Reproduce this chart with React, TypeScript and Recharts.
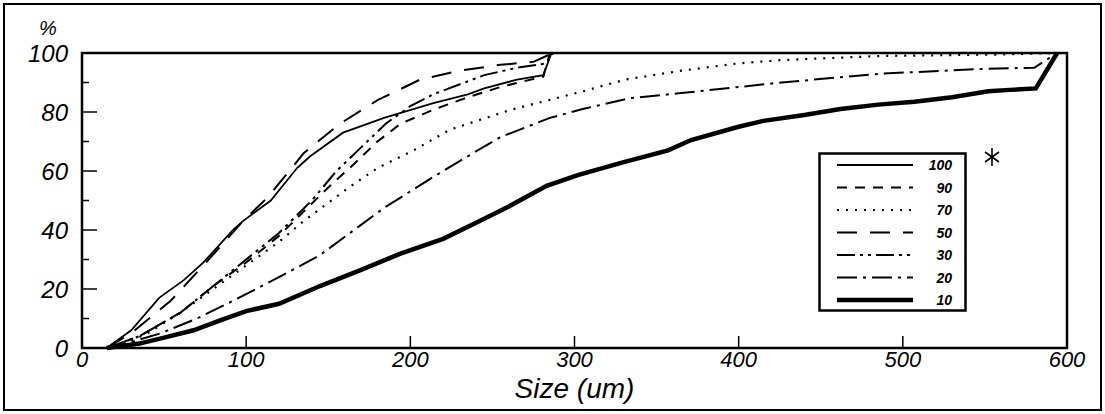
import { LineChart, Line, XAxis, YAxis, Legend, ReferenceArea } from "recharts";

// cumulative size distribution, one curve per fraction
const size100 = [15, 30, 47, 62, 74, 92, 98, 115, 131, 139, 159, 184, 214, 235, 245, 265, 281, 286];
const pct100 = [0, 6, 17, 23, 29, 40, 43, 50, 61, 65, 73, 78, 83, 86, 88, 91, 92.5, 100];

const size90 = [15, 35, 60, 80, 100, 120, 140, 153, 165, 180, 194, 215, 235, 255, 281, 285];
const pct90 = [0, 4, 12, 21, 29, 38, 49, 56, 62, 70, 76, 81, 85, 88.5, 92, 100];

const size70 = [20, 40, 60, 80, 100, 120, 135, 163, 180, 202, 224, 261, 305, 331, 365, 400, 426, 487, 531, 560, 594];
const pct70 = [0, 5, 12, 20, 28, 36, 43, 54.6, 61, 67, 74, 80.7, 87, 91, 94, 96.5, 97.6, 99, 99.3, 99.5, 100];

const size50 = [15, 30, 54, 74, 98, 113, 135, 157, 180, 206, 230, 255, 275, 287];
const pct50 = [0, 5, 16, 28, 43, 51, 66, 76, 84, 91, 94, 96, 97, 100];

const size30 = [15, 35, 60, 80, 100, 120, 140, 155, 170, 185, 200, 214, 245, 265, 283, 287];
const pct30 = [0, 4, 12, 21, 30, 39, 50, 60, 68, 76, 82, 86, 92.5, 95, 96.5, 100];

const size20 = [15, 30, 48, 70, 92, 120, 145, 184, 214, 241, 255, 285, 305, 334, 365, 426, 487, 548, 580, 594];
const pct20 = [0, 2, 5, 10, 16, 24, 31.5, 47.5, 58, 67, 71.5, 78, 81, 84.7, 86.4, 90, 93, 94.6, 95, 100];

const size10 = [15, 35, 50, 68, 85, 100, 120, 145, 170, 194, 220, 241, 260, 283, 302, 330, 357, 371, 400, 415, 440, 462, 485, 507, 530, 552, 565, 581, 594];
const pct10 = [0, 1.5, 3.5, 6, 9.5, 12.5, 15, 21, 26.5, 32, 37, 42.7, 48, 55, 58.6, 63, 67, 70.5, 75, 77, 79, 81, 82.5, 83.5, 85, 87, 87.5, 88, 100];

const xTicks = [0, 100, 200, 300, 400, 500, 600];
const yTicks = [0, 10, 20, 30, 40, 50, 60, 70, 80, 90, 100];

const toPoints = (xs: number[], ys: number[]) => xs.map((x, i) => ({ x, y: ys[i] }));

const series = [
  { name: "100", data: toPoints(size100, pct100), dash: undefined, width: 1.8 },
  { name: "90", data: toPoints(size90, pct90), dash: "10 8", width: 2 },
  { name: "70", data: toPoints(size70, pct70), dash: "2 7", width: 2.2 },
  { name: "50", data: toPoints(size50, pct50), dash: "20 13", width: 2 },
  { name: "30", data: toPoints(size30, pct30), dash: "18 5 3 5 3 5", width: 2 },
  { name: "20", data: toPoints(size20, pct20), dash: "20 6 3 6", width: 2 },
  { name: "10", data: toPoints(size10, pct10), dash: undefined, width: 4.5 },
];

const PLOT_LEFT = 82;
const PLOT_BOTTOM = 348;
const FONT = "'Liberation Sans', Arial, sans-serif";

const YTick = (props: any) => {
  const { y, payload } = props;
  const major = payload.value % 20 === 0;
  return (
    <g>
      <line x1={PLOT_LEFT} x2={PLOT_LEFT + (major ? 15 : 7)} y1={y} y2={y} stroke="#000" strokeWidth={1.5} />
      {major && (
        <text x={PLOT_LEFT - 14} y={y} dy="0.36em" textAnchor="end" fontFamily={FONT} fontStyle="italic" fontSize={24} fill="#000">
          {payload.value}
        </text>
      )}
    </g>
  );
};

const XTick = (props: any) => {
  const { x, payload } = props;
  return (
    <g>
      <line x1={x} x2={x} y1={PLOT_BOTTOM} y2={PLOT_BOTTOM - 12} stroke="#000" strokeWidth={1.5} />
      <text x={x} y={367} textAnchor="middle" fontFamily={FONT} fontStyle="italic" fontSize={22} fill="#000">
        {payload.value}
      </text>
    </g>
  );
};

// legend keeps the series order of the original figure
const LegendBox = () => (
  <svg width={150} height={162} style={{ display: "block", overflow: "visible" }}>
    <rect x={1.5} y={1.5} width={146} height={157} fill="#fff" stroke="#000" strokeWidth={2.5} />
    {series.map((s, i) => {
      const y = 13 + i * 22.5;
      return (
        <g key={s.name}>
          <line x1={19} x2={95} y1={y} y2={y} stroke="#000" strokeWidth={s.width} strokeDasharray={s.dash} />
          <text x={134} y={y} dy="0.36em" textAnchor="end" fontFamily={FONT} fontStyle="italic" fontWeight="bold" fontSize={14} fill="#000">
            {s.name}
          </text>
        </g>
      );
    })}
    <g stroke="#000" strokeWidth={1.6}>
      <line x1={174} x2={174} y1={-4} y2={14} />
      <line x1={167} x2={181} y1={0} y2={10} />
      <line x1={167} x2={181} y1={10} y2={0} />
    </g>
  </svg>
);

export default function App() {
  return (
    <div style={{ position: "absolute", left: 0, top: 0, width: 1105, height: 414, background: "#fff" }}>
      <div style={{ position: "absolute", left: 3, top: 3, width: 1095, height: 404, border: "2px solid #000" }} />
      <LineChart width={1105} height={414} margin={{ top: 53, right: 38, bottom: 14, left: 22 }}>
        <XAxis
          type="number"
          dataKey="x"
          domain={[0, 600]}
          ticks={xTicks}
          interval={0}
          height={52}
          axisLine={false}
          tickLine={false}
          tick={<XTick />}
          label={{ value: "Size (um)", position: "insideBottom", offset: 2, fontFamily: FONT, fontStyle: "italic", fontSize: 28, fill: "#000" }}
        />
        <YAxis
          type="number"
          domain={[0, 100]}
          ticks={yTicks}
          interval={0}
          width={60}
          axisLine={false}
          tickLine={false}
          tick={<YTick />}
          label={{ value: "%", position: "top", offset: 18, dx: -4, fontFamily: FONT, fontStyle: "italic", fontSize: 20, fill: "#000" }}
        />
        <ReferenceArea x1={0} x2={600} y1={0} y2={100} fill="none" stroke="#000" strokeWidth={2.5} fillOpacity={0} />
        {series.map((s) => (
          <Line
            key={s.name}
            data={s.data}
            dataKey="y"
            name={s.name}
            type="linear"
            stroke="#000"
            strokeWidth={s.width}
            strokeDasharray={s.dash}
            dot={false}
            isAnimationActive={false}
          />
        ))}
        <Legend
          layout="vertical"
          align="center"
          verticalAlign="middle"
          content={<LegendBox />}
          wrapperStyle={{ left: 818, top: 152, width: 150, height: 162 }}
        />
      </LineChart>
    </div>
  );
}
